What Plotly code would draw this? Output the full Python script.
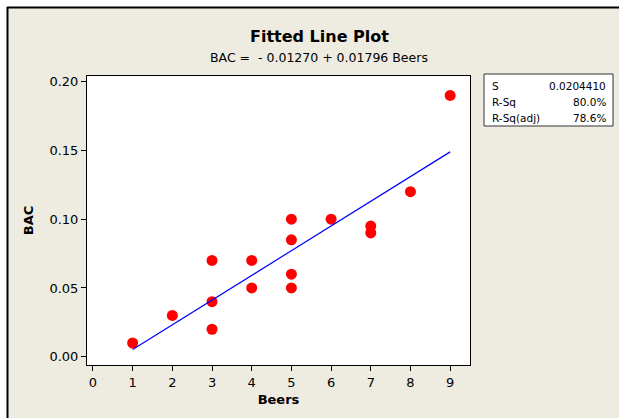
import plotly.graph_objects as go

# Beers consumed vs. blood alcohol content
beers = [5, 2, 9, 8, 3, 7, 3, 5, 3, 5, 4, 6, 5, 7, 1, 4]
bac = [0.10, 0.03, 0.19, 0.12, 0.04, 0.095, 0.07, 0.06, 0.02, 0.05, 0.07, 0.10, 0.085, 0.09, 0.01, 0.05]

# Regression summary
intercept = -0.01270
slope = 0.01796
stat_labels = ["S", "R-Sq", "R-Sq(adj)"]
stat_values = ["0.0204410", "80.0%", "78.6%"]

x_ticks = list(range(0, 10))
y_ticks = [0.00, 0.05, 0.10, 0.15, 0.20]
y_tick_text = ["0.00", "0.05", "0.10", "0.15", "0.20"]

W, H = 619, 418
L, R, T, B = 87, 470, 76, 365  # plot area in pixels


def px(x):
    return (x - L) / (R - L)


def py(y):
    return (B - y) / (B - T)


font = "DejaVu Sans"
bg = "#EEEBE1"
no_line = dict(color="rgba(0,0,0,0)", width=0)

fit_x = [min(beers), max(beers)]
fit_y = [intercept + slope * v for v in fit_x]

fig = go.Figure()
fig.add_trace(go.Scatter(x=beers, y=bac, mode="markers",
                         marker=dict(color="#FF0000", size=11, line=dict(width=0)),
                         showlegend=False, cliponaxis=False))
fig.add_trace(go.Scatter(x=fit_x, y=fit_y, mode="lines",
                         line=dict(color="#0000FF", width=1.2), showlegend=False))

shapes = [
    # page background with black top/left edges
    dict(type="rect", xref="paper", yref="paper", x0=px(7), x1=px(W), y0=py(7), y1=py(H),
         fillcolor=bg, line=no_line, layer="below"),
    dict(type="line", xref="paper", yref="paper", x0=px(7), x1=px(W), y0=py(7.5), y1=py(7.5),
         line=dict(color="black", width=2)),
    dict(type="line", xref="paper", yref="paper", x0=px(7.5), x1=px(7.5), y0=py(7), y1=py(H),
         line=dict(color="black", width=2)),
    # plot area fill
    dict(type="rect", xref="paper", yref="paper", x0=0, x1=1, y0=0, y1=1,
         fillcolor="white", line=no_line, layer="below"),
    # statistics box
    dict(type="rect", xref="paper", yref="paper", x0=px(484), x1=px(613), y0=py(74), y1=py(126),
         fillcolor="white", line=dict(color="#333333", width=1)),
]

annotations = [
    dict(text="<b>Fitted Line Plot</b>", x=px(319), y=py(37), xref="paper", yref="paper",
         showarrow=False, font=dict(family=font, size=16, color="black"), xanchor="center", yanchor="middle"),
    dict(text=f"BAC =  - {abs(intercept):.5f} + {slope:.5f} Beers", x=px(319), y=py(57),
         xref="paper", yref="paper", showarrow=False,
         font=dict(family=font, size=12.5, color="black"), xanchor="center", yanchor="middle"),
]
row_y = [86, 102, 118]
for lab, val, yy in zip(stat_labels, stat_values, row_y):
    annotations.append(dict(text=lab, x=px(490), y=py(yy), xref="paper", yref="paper", showarrow=False,
                            font=dict(family=font, size=10.5, color="black"), xanchor="left", yanchor="middle"))
    annotations.append(dict(text=val, x=px(608), y=py(yy), xref="paper", yref="paper", showarrow=False,
                            font=dict(family=font, size=10.5, color="black"), xanchor="right", yanchor="middle"))

fig.update_layout(
    width=W, height=H,
    margin=dict(l=L, r=W - R, t=T, b=H - B),
    paper_bgcolor="white", plot_bgcolor="white",
    shapes=shapes, annotations=annotations,
    xaxis=dict(range=[-0.15, 9.5], tickvals=x_ticks, ticks="outside", ticklen=5, tickcolor="black",
               showline=True, linecolor="black", linewidth=1, mirror=True, showgrid=False, zeroline=False,
               tickfont=dict(family=font, size=13, color="black"),
               title=dict(text="<b>Beers</b>", font=dict(family=font, size=13, color="black"), standoff=6)),
    yaxis=dict(range=[-0.006, 0.2041], tickvals=y_ticks, ticktext=y_tick_text, ticks="outside", ticklen=5,
               tickcolor="black", showline=True, linecolor="black", linewidth=1, mirror=True,
               showgrid=False, zeroline=False,
               tickfont=dict(family=font, size=13, color="black"),
               title=dict(text="<b>BAC</b>", font=dict(family=font, size=13, color="black"), standoff=12)),
)

fig.write_html("out.html")
